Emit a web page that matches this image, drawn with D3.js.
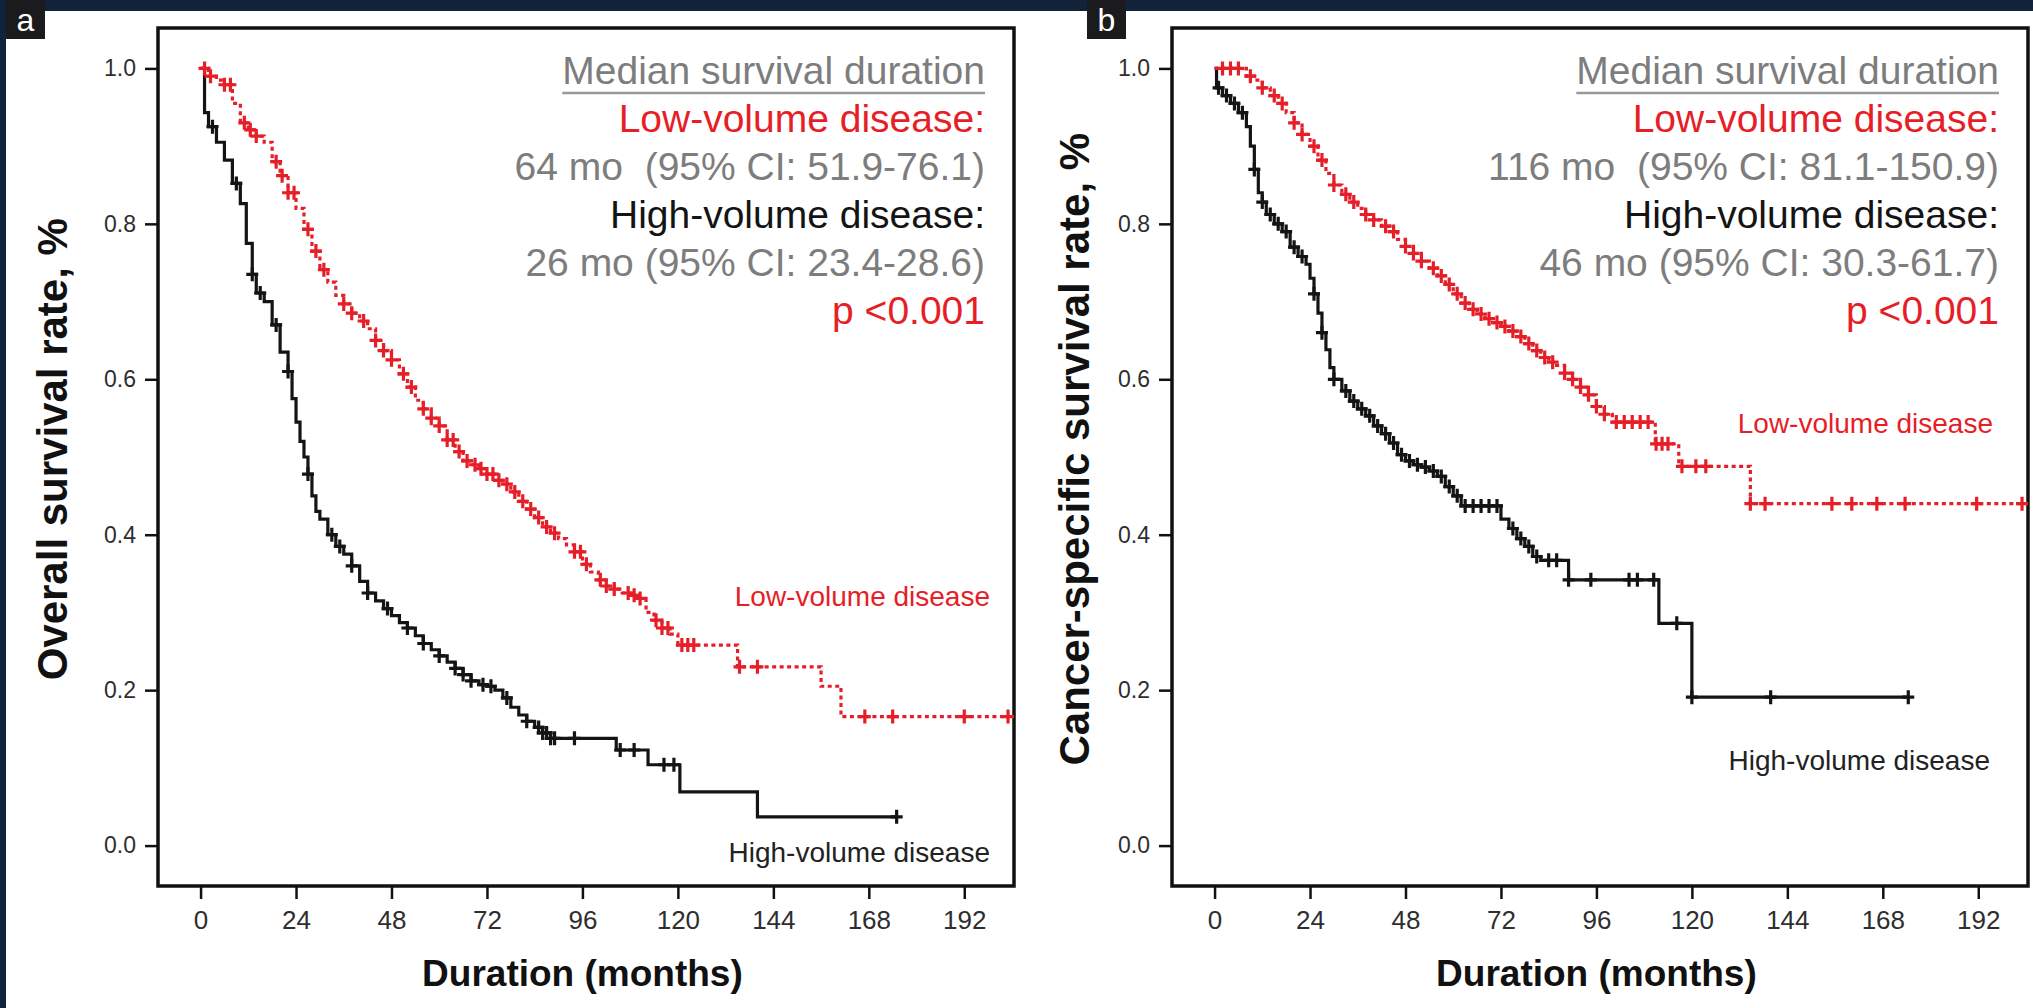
<!DOCTYPE html>
<html>
<head>
<meta charset="utf-8">
<script src="https://cdnjs.cloudflare.com/ajax/libs/d3/7.8.5/d3.min.js"></script>
<style>
  body { margin: 0; background: #12223a; }
  text { font-family: "Liberation Sans", Arial, sans-serif; }
  .tick text { fill: #2e2e2e; }
  .x.axis .tick text { font-family: "Liberation Sans Narrow", "Liberation Sans", Arial, sans-serif; }
  .axisTitle { font-weight: bold; fill: #111; }
  .note { white-space: pre; }
</style>
</head>
<body>
<script>
// Kaplan-Meier curves, low-volume vs high-volume disease (a: overall, b: cancer-specific)

// Axis ticks
var monthTicks = [0, 24, 48, 72, 96, 120, 144, 168, 192];
var rateTicks = [0.0, 0.2, 0.4, 0.6, 0.8, 1.0];

// ----- Panel a data: [month, survival after the step] -----
var osLow = [[0,1.0],[2,0.99],[4,0.985],[6,0.979],[8,0.955],[10,0.93],[12,0.921],[14,0.913],[16,0.905],
  [18,0.88],[20,0.862],[22,0.84],[24,0.82],[26,0.793],[28,0.765],[30,0.741],[32,0.725],[34,0.708],
  [36,0.697],[38,0.685],[40,0.675],[42,0.665],[44,0.65],[46,0.637],[48,0.625],[50,0.607],[52,0.59],
  [54,0.573],[56,0.562],[58,0.55],[60,0.54],[62,0.522],[64,0.507],[66,0.495],[68,0.49],[70,0.485],
  [72,0.478],[74,0.47],[76,0.465],[78,0.455],[80,0.443],[82,0.433],[84,0.422],[86,0.41],[88,0.402],
  [90,0.395],[92,0.387],[94,0.378],[96,0.362],[98,0.352],[100,0.342],[102,0.334],[104,0.33],[106,0.325],
  [108,0.322],[110,0.318],[112,0.30],[114,0.29],[116,0.28],[118,0.272],[120,0.258],[135,0.23],
  [156,0.205],[161,0.166]];
var osLowCensored = [1, 2.5, 6, 7.5, 11, 12.5, 14, 19, 20.5, 22, 23.5, 27, 29, 31, 36, 38, 41, 44, 46, 48,
  51, 53, 56, 58, 60, 62, 63.5, 65, 67, 69, 70.5, 72, 73.5, 75, 77, 79, 81, 83, 85, 87, 89, 94, 95.5, 97,
  100.5, 102, 104, 107.5, 109, 110.5, 114.5, 116, 117.5, 121, 122.5, 124, 135.5, 140, 167, 174, 192, 203];

var osHigh = [[0,1.0],[1,0.943],[2,0.925],[4,0.905],[6,0.882],[8,0.852],[10,0.826],[11.5,0.775],[13,0.735],
  [14,0.711],[16,0.70],[18,0.67],[20,0.635],[22,0.61],[23,0.575],[24,0.545],[25,0.52],[26,0.50],[27,0.478],
  [28,0.45],[29,0.43],[30,0.42],[32,0.40],[34,0.385],[36,0.375],[38,0.36],[40,0.34],[42,0.325],[44,0.315],
  [46,0.305],[48,0.296],[50,0.287],[52,0.28],[54,0.27],[56,0.26],[58,0.252],[60,0.244],[62,0.236],
  [64,0.228],[66,0.22],[68,0.212],[70,0.207],[72,0.205],[74,0.2],[76,0.19],[78,0.178],[80,0.168],
  [82,0.16],[84,0.152],[86,0.145],[88,0.138],[104.5,0.123],[112.5,0.104],[120.5,0.069],[140,0.037]];
var osHighCensored = [3, 9, 13, 15, 19, 22, 27, 33, 35, 38, 42, 47, 52, 56, 60, 64, 66, 68, 71, 73, 77, 82,
  85, 86, 87, 88, 89, 94, 105.5, 109, 116.5, 119, 175];

// ----- Panel b data -----
var cssLow = [[0,1.0],[8,0.99],[10,0.985],[12,0.975],[14,0.965],[16,0.955],[18,0.943],[20,0.93],[22,0.915],
  [24,0.9],[26,0.882],[28,0.865],[30,0.85],[32,0.838],[34,0.828],[36,0.82],[38,0.812],[40,0.805],
  [42,0.797],[44,0.79],[46,0.78],[48,0.771],[50,0.762],[52,0.752],[54,0.743],[56,0.733],[58,0.722],
  [60,0.71],[62,0.698],[64,0.69],[66,0.684],[68,0.678],[70,0.673],[72,0.668],[74,0.662],[76,0.655],
  [78,0.646],[80,0.637],[82,0.628],[84,0.622],[86,0.618],[88,0.608],[90,0.6],[92,0.59],[94,0.58],
  [96,0.565],[98,0.555],[100,0.545],[110.8,0.517],[116.7,0.488],[134.7,0.44]];
var cssLowCensored = [2, 4, 6, 9, 12, 15, 17, 20, 22, 25, 27, 30, 33, 35, 38, 40, 43, 45, 48, 50, 52, 55,
  57, 59, 61, 63, 65, 67, 69, 71, 73, 75, 77, 79, 81, 83, 85, 88, 90, 92, 94, 96, 98, 101, 103, 105, 107,
  109, 111, 112.5, 114, 117.5, 121, 123.5, 134.7, 138.4, 155.2, 160.2, 166.5, 173.6, 191.6, 203];

var cssHigh = [[0,1.0],[0.5,0.975],[2,0.965],[4,0.955],[6,0.943],[8,0.925],[9,0.9],[10,0.87],[11,0.84],
  [12,0.828],[13,0.812],[15,0.8],[17,0.79],[19,0.77],[21,0.758],[23,0.748],[24,0.73],[25,0.71],[26,0.685],
  [27,0.66],[28,0.638],[29,0.615],[30,0.6],[32,0.585],[34,0.572],[36,0.562],[38,0.553],[40,0.54],[42,0.53],
  [44,0.518],[46,0.503],[48,0.495],[50,0.49],[52,0.487],[54,0.482],[56,0.475],[58,0.462],[60,0.45],
  [62,0.437],[72,0.42],[74,0.408],[76,0.395],[78,0.385],[80,0.372],[82,0.367],[89,0.342],[111.7,0.286],
  [120,0.191]];
var cssHighCensored = [1, 3, 5, 7, 10, 12, 14, 16, 18, 20, 22, 25, 27, 30, 33, 35, 37, 39, 41, 43, 45, 47,
  49, 51, 53, 55, 57, 59, 61, 63, 65, 67, 69, 71, 75, 77, 79, 81, 84, 86, 89, 94.6, 104.2, 106.3, 110.4,
  116.2, 120, 139.8, 174.4];

// Median survival notes
var osNotes = ["Median survival duration", "Low-volume disease:", "64 mo  (95% CI: 51.9-76.1)",
  "High-volume disease:", "26 mo (95% CI: 23.4-28.6)", "p <0.001"];
var cssNotes = ["Median survival duration", "Low-volume disease:", "116 mo  (95% CI: 81.1-150.9)",
  "High-volume disease:", "46 mo (95% CI: 30.3-61.7)", "p <0.001"];

var groupNames = ["Low-volume disease", "High-volume disease"];
var panelTitles = ["Overall survival rate, %", "Cancer-specific survival rate, %"];
var xTitle = "Duration (months)";


// Page dimensions
var W = 2033, H = 1008;
var red = "#e61e28", gray = "#7d7d7d", ink = "#141414";
var noteColors = [gray, red, gray, ink, gray, red];

var svg = d3.select("body")
  .append("svg")
  .attr("width", W)
  .attr("height", H);

// dark page with the white figure on top
svg.append("rect").attr("width", W).attr("height", H).attr("fill", "#12223a");
svg.append("rect").attr("x", 6).attr("y", 11).attr("width", W - 6).attr("height", H - 11).attr("fill", "#fff");

var panels = [
  { left: 158, tag: "a", tagX: 6, title: panelTitles[0], titleX: 67, low: osLow, lowCens: osLowCensored,
    high: osHigh, highCens: osHighCensored, notes: osNotes, noteRight: 985,
    lowLabel: [990, 606], highLabel: [990, 862] },
  { left: 1172, tag: "b", tagX: 1087, title: panelTitles[1], titleX: 1089, low: cssLow, lowCens: cssLowCensored,
    high: cssHigh, highCens: cssHighCensored, notes: cssNotes, noteRight: 1999,
    lowLabel: [1993, 433], highLabel: [1990, 770] }
];

var plotW = 856, plotTop = 28, plotBottom = 886;

panels.forEach(drawPanel);

// value of a step curve at month t
function rateAt(steps, t) {
  var r = steps[0][1];
  steps.forEach(function(d) { if (d[0] <= t) r = d[1]; });
  return r;
}

function drawPanel(p) {
  var x = d3.scaleLinear().domain([-10.7, 204.5]).range([p.left, p.left + plotW]);
  var y = d3.scaleLinear().domain([-0.052, 1.052]).range([plotBottom, plotTop]);

  var g = svg.append("g");

  // panel letter
  g.append("rect").attr("x", p.tagX).attr("y", 0).attr("width", 39).attr("height", 39).attr("fill", "#1b1b1d");
  g.append("text")
    .attr("x", p.tagX + 19.5).attr("y", 31)
    .attr("text-anchor", "middle")
    .attr("fill", "#fff")
    .style("font-size", "32px")
    .text(p.tag);

  // axes
  var yAxis = d3.axisLeft(y).tickValues(rateTicks).tickFormat(d3.format(".1f")).tickSize(13).tickPadding(9);
  var xAxis = d3.axisBottom(x).tickValues(monthTicks).tickSize(13).tickPadding(12);

  g.append("g")
    .attr("class", "y axis")
    .attr("transform", "translate(" + p.left + ",0)")
    .call(yAxis)
    .call(function(s) {
      s.select(".domain").remove();
      s.selectAll(".tick line").attr("stroke", "#111").attr("stroke-width", 2.5);
      s.selectAll(".tick text").style("font-size", "23px");
    });

  g.append("g")
    .attr("class", "x axis")
    .attr("transform", "translate(0," + plotBottom + ")")
    .call(xAxis)
    .call(function(s) {
      s.select(".domain").remove();
      s.selectAll(".tick line").attr("stroke", "#111").attr("stroke-width", 2.5);
      s.selectAll(".tick text").style("font-size", "26px");
    });

  // frame
  g.append("rect")
    .attr("x", p.left).attr("y", plotTop)
    .attr("width", plotW).attr("height", plotBottom - plotTop)
    .attr("fill", "none")
    .attr("stroke", "#111")
    .attr("stroke-width", 3.5);

  // axis titles
  g.append("text")
    .attr("class", "axisTitle")
    .attr("transform", "translate(" + p.titleX + "," + y(0.51) + ") rotate(-90)")
    .attr("text-anchor", "middle")
    .style("font-size", "42px")
    .text(p.title);

  g.append("text")
    .attr("class", "axisTitle")
    .attr("x", (x(0) + x(192)) / 2)
    .attr("y", 986)
    .attr("text-anchor", "middle")
    .style("font-size", "37px")
    .text(xTitle);

  // curves
  var line = d3.line()
    .x(function(d) { return x(d[0]); })
    .y(function(d) { return y(d[1]); })
    .curve(d3.curveStepAfter);

  var series = [
    { steps: p.high, cens: p.highCens, color: ink, dash: null },
    { steps: p.low, cens: p.lowCens, color: red, dash: "4,3.5" }
  ];

  series.forEach(function(s) {
    var last = s.steps[s.steps.length - 1][1];
    var end = d3.max(s.cens);
    g.append("path")
      .attr("d", line(s.steps.concat([[end, last]])))
      .attr("fill", "none")
      .attr("stroke", s.color)
      .attr("stroke-width", 3.2)
      .attr("stroke-dasharray", s.dash);

    // censor marks
    g.selectAll(null)
      .data(s.cens)
      .enter().append("path")
      .attr("d", function(t) {
        var cx = x(t), cy = y(rateAt(s.steps, t));
        return "M" + (cx - 6) + "," + cy + "h12M" + cx + "," + (cy - 7) + "v14";
      })
      .attr("stroke", s.color)
      .attr("stroke-width", 3.2);
  });

  // curve labels
  g.append("text")
    .attr("x", p.lowLabel[0]).attr("y", p.lowLabel[1])
    .attr("text-anchor", "end")
    .attr("fill", red)
    .style("font-size", "28px")
    .text(groupNames[0]);

  g.append("text")
    .attr("x", p.highLabel[0]).attr("y", p.highLabel[1])
    .attr("text-anchor", "end")
    .attr("fill", "#222")
    .style("font-size", "28px")
    .text(groupNames[1]);

  // median survival notes
  var notes = g.selectAll(".note")
    .data(p.notes)
    .enter().append("text")
    .attr("class", "note")
    .attr("x", p.noteRight)
    .attr("y", function(d, i) { return 84 + i * 48; })
    .attr("text-anchor", "end")
    .attr("fill", function(d, i) { return noteColors[i]; })
    .style("font-size", "39px")
    .text(function(d) { return d; });

  var headW = notes.node().getComputedTextLength();
  g.append("line")
    .attr("x1", p.noteRight - headW).attr("x2", p.noteRight)
    .attr("y1", 93).attr("y2", 93)
    .attr("stroke", "#9a9a9a")
    .attr("stroke-width", 2.5);
}
</script>
</body>
</html>
